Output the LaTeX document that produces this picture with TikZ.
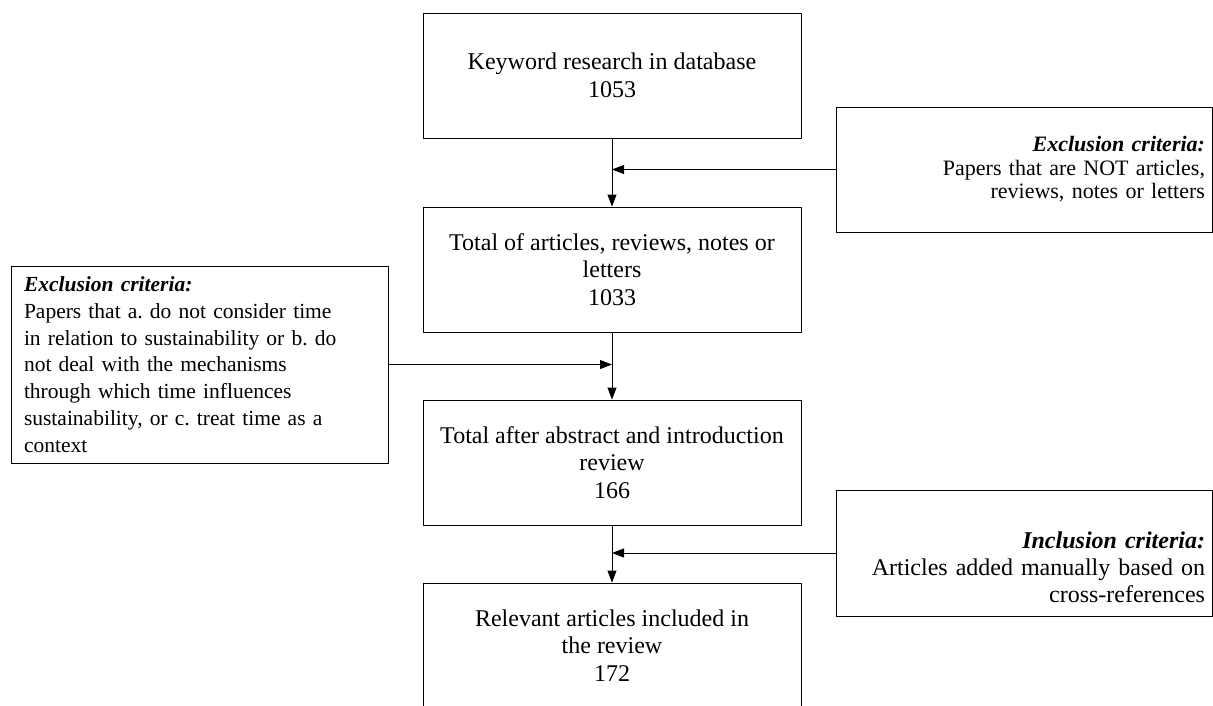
\documentclass[tikz,border=0pt]{standalone}
\usepackage{fontspec}
\setmainfont{Liberation Serif}
\usetikzlibrary{arrows.meta}
\frenchspacing

\begin{document}
\begin{tikzpicture}[x=1pt,y=-1pt,line cap=round,line join=round,>={Triangle[length=12pt,width=9pt]}]
\useasboundingbox (0,0) rectangle (1213,705);
\tikzset{
  stepbox/.style={draw,line width=0.9pt,minimum width=378pt,minimum height=125pt,inner sep=0pt,align=center,font=\fontsize{24}{27.5}\selectfont},
  critbox/.style={draw,line width=0.9pt,inner xsep=7pt,inner ysep=0pt,text width=362pt,minimum height=125pt,align=right},
  link/.style={line width=0.9pt,->}
}
\node[stepbox] (b1) at (612,75.5) {Keyword research in database\\1053};
\node[stepbox] (b2) at (612,269.5) {Total of articles, reviews, notes or\\letters\\1033};
\node[stepbox] (b3) at (612,462.5) {Total after abstract and introduction\\review\\166};
\node[stepbox] (b4) at (612,645.5) {Relevant articles included in\\the review\\172};
\node[critbox,font=\fontsize{22}{23.5}\selectfont] (exA) at (1024,169.5) {\textbf{\textit{Exclusion criteria:}}\\Papers that are NOT articles,\\reviews, notes or letters};
\node[critbox,align=left,text width=351pt,inner xsep=13pt,minimum height=197pt,font=\fontsize{21.5}{26.8}\selectfont] (exL) at (199.5,364.5) {\textbf{\textit{Exclusion criteria:}}\\Papers that a. do not consider time\\in relation to sustainability or b. do\\not deal with the mechanisms\\through which time influences\\sustainability, or c. treat time as a\\context};
\node[critbox,minimum height=126pt,font=\fontsize{24}{27}\selectfont] (inB) at (1024,553) {\rule{0pt}{45pt}\textbf{\textit{Inclusion criteria:}}\\Articles added manually based on\\cross-references};
\coordinate (j1) at (exA.west -| b1.south);
\coordinate (j2) at (exL.east -| b2.south);
\coordinate (j3) at (inB.west -| b3.south);
\draw[link] (b1.south) -- (b2.north);
\draw[link] (b2.south) -- (b3.north);
\draw[link] (b3.south) -- (b4.north);
\draw[link] (exA.west) -- (j1);
\draw[link] (exL.east) -- (j2);
\draw[link] (inB.west) -- (j3);
\end{tikzpicture}
\end{document}
